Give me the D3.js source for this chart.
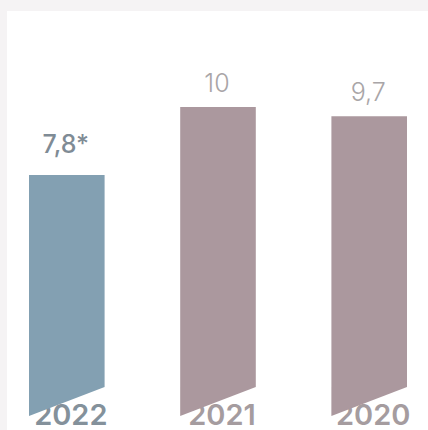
<!DOCTYPE html>
<html>
<head>
<meta charset="utf-8">
<script src="https://cdn.jsdelivr.net/npm/d3@7"></script>
<style>
  html, body { margin: 0; padding: 0; background: #f5f3f4; }
  svg { display: block; }
</style>
</head>
<body>
<svg id="chart" width="428" height="430"></svg>
<script>
// Yearly values, newest first
const years = ["2022", "2021", "2020"];
const values = [7.8, 10, 9.7];
const valueLabels = ["7,8*", "10", "9,7"];

const W = 428, H = 430;
const svg = d3.select("#chart");

// page frame: light band on top and left, white panel
svg.append("rect").attr("width", W).attr("height", H).attr("fill", "#f5f3f4");
svg.append("rect").attr("x", 7).attr("y", 11).attr("width", W - 7).attr("height", H - 11).attr("fill", "#ffffff");

const x = d3.scaleBand().domain(years).range([29, 407]).paddingInner(0.5).paddingOuter(0);
const y = d3.scaleLinear().domain([0, 10]).range([416, 107]);

const barColor = (yr, i) => i === 0 ? "#83a0b2" : "#ab989e";
const yearColor = (yr, i) => i === 0 ? "#84919b" : "#a59c9f";
const labelColor = (yr, i) => i === 0 ? "#7f8b95" : "#a9a5a7";
const slant = 29;
const font = "Inter, 'Open Sans', sans-serif";

const data = years.map((yr, i) => ({ yr, v: values[i], label: valueLabels[i], i }));

// year captions sit behind the bars, the slanted foot clips their top
svg.append("g").selectAll("text").data(data).join("text")
  .attr("x", d => x(d.yr) + x.bandwidth() / 2 + 4)
  .attr("y", 425)
  .attr("text-anchor", "middle")
  .attr("font-family", font)
  .attr("font-weight", 600)
  .attr("font-size", 29)
  .attr("fill", d => yearColor(d.yr, d.i))
  .text(d => d.yr);

// bars with a slanted bottom edge
svg.append("g").selectAll("path").data(data).join("path")
  .attr("d", d => {
    const x0 = x(d.yr), x1 = x0 + x.bandwidth();
    return `M${x0},${y(d.v)}L${x1},${y(d.v)}L${x1},${y(0) - slant}L${x0},${y(0)}Z`;
  })
  .attr("fill", d => barColor(d.yr, d.i));

// value labels above bars
svg.append("g").selectAll("text").data(data).join("text")
  .attr("x", d => x(d.yr) + x.bandwidth() / 2 - 1)
  .attr("y", d => y(d.v) - (d.i === 0 ? 22 : 15))
  .attr("text-anchor", "middle")
  .attr("font-family", font)
  .attr("font-weight", d => d.i === 0 ? 500 : 300)
  .attr("font-size", 25)
  .attr("fill", d => labelColor(d.yr, d.i))
  .text(d => d.label);
</script>
</body>
</html>
